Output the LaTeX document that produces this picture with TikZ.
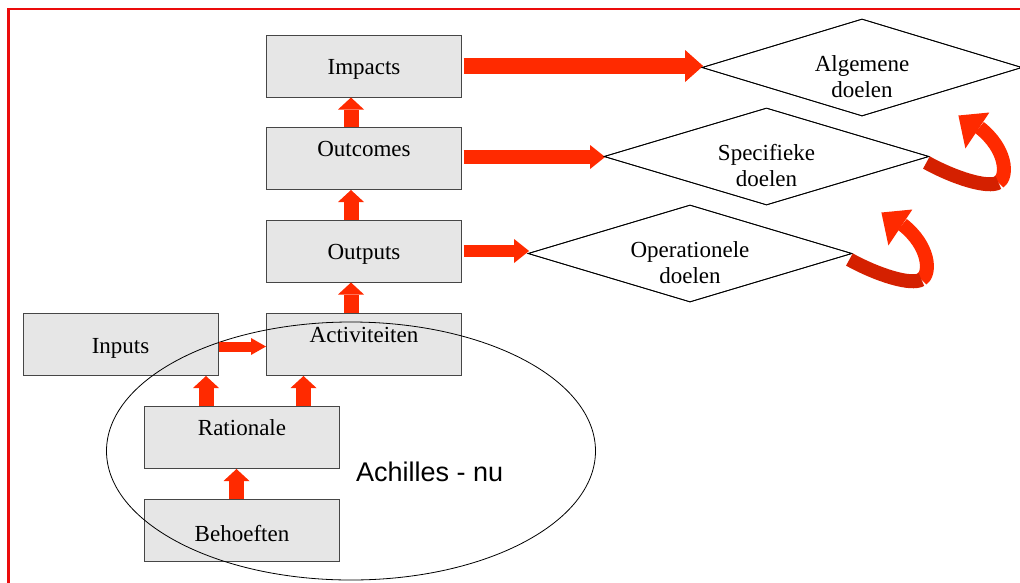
\documentclass[tikz,border=0pt]{standalone}
\usepackage{fontspec}
\setmainfont{Liberation Serif}
\newfontfamily\achfont{Liberation Sans}
\usetikzlibrary{arrows.meta,shapes.geometric,calc}
\definecolor{arrowred}{RGB}{255,42,0}
\definecolor{arrowdark}{RGB}{212,32,0}
\definecolor{boxfill}{RGB}{230,230,230}
\definecolor{boxline}{RGB}{70,70,70}
\definecolor{framered}{RGB}{235,12,12}
\tikzset{
  box/.style={draw=boxline, line width=1pt, fill=boxfill, minimum width=195pt,
    minimum height=62pt, inner sep=0pt},
  toplabel/.style={label={[anchor=center,yshift=-22pt]north:#1}},
  midlabel/.style={label={[anchor=center,yshift=-3.5pt]center:#1}},
  goal/.style={draw=black, line width=0.8pt, shape=diamond, inner sep=0pt,
    minimum height=97pt},
  goaltext/.style={align=center},
  blockarrow/.style n args={3}{draw=arrowred, line width=#1,
    -{Triangle[width=#2,length=#3,line width=0pt]}},
  uparrow/.style={blockarrow={15pt}{26pt}{12pt}},
  turnarrow/.pic={
    \draw[arrowred, line width=14pt] (69,26) .. controls (79,20) and (77,-8) .. (50,-29);
    \draw[arrowdark, line width=14pt] (-3,6) .. controls (26,22) and (59,32) .. (69,26);
    \fill[arrowred] (29,-41) -- (60,-44) -- (36,-8) -- cycle;
  }
}
\begin{document}
\begin{tikzpicture}[x=1pt, y=-1pt, font=\fontsize{23}{26}\selectfont]
\useasboundingbox (0,0) rectangle (1020,582);
\clip (0,0) rectangle (1020,582);

% outer frame
\draw[framered, line width=2.2pt] (8.5,600) -- (8.5,9) -- (1040,9);

% logic-model boxes
\node[box, midlabel=Impacts] (imp)  at (364,66) {};
\node[box, toplabel=Outcomes] (outc) at (364,158.5) {};
\node[box, midlabel=Outputs] (outp) at (364,251) {};
\node[box, toplabel=Activiteiten] (act) at (364,344.5) {};
\node[box, midlabel=Inputs] (inp)  at (120.5,344.5) {};
\node[box, toplabel=Rationale] (rat) at (242,437.5) {};
\node[box, midlabel=Behoeften] (beh)  at (242,530) {};

% scope of the current situation
\node[draw=black, line width=0.8pt, ellipse, inner sep=0pt,
  minimum width=489pt, minimum height=258pt] (scope) at (351,451) {};
\node[anchor=west, inner sep=0pt, font=\achfont\fontsize{27}{30}\selectfont] (achtxt) at (356,471.5) {Achilles - nu};

% vertical flow
\draw[uparrow] ([xshift=-13pt]outc.north) -- ([xshift=-13pt]outc.north |- imp.south);
\draw[uparrow] ([xshift=-13pt]outp.north) -- ([xshift=-13pt]outp.north |- outc.south);
\draw[uparrow] ([xshift=-13pt]act.north) -- ([xshift=-13pt]act.north |- outp.south);
\draw[uparrow] ([xshift=-36pt]rat.north) -- ([xshift=-36pt]rat.north |- inp.south);
\draw[uparrow] ([xshift=61.5pt]rat.north) -- ([xshift=61.5pt]rat.north |- act.south);
\draw[uparrow] ([xshift=-5.5pt]beh.north) -- ([xshift=-5.5pt]beh.north |- rat.south);
\draw[blockarrow={10pt}{17pt}{15pt}] ([yshift=-2pt]inp.east) -- ([yshift=-2pt]inp.east -| act.west);

% goals
\node[goal, minimum width=320pt] (alg) at (862,67.5) {};
\node[goal, minimum width=325pt] (spe) at (766.5,156.5) {};
\node[goal, minimum width=324pt] (ope) at (690,253.5) {};

\draw[blockarrow={16pt}{32pt}{18pt}] ([xshift=1.5pt]imp.east) -- ([xshift=1.5pt]imp.east -| alg.west);
\draw[blockarrow={14pt}{24pt}{15pt}] ([xshift=1.5pt,yshift=1.5pt]outc.east) -- ([xshift=1.5pt,yshift=1.5pt]outc.east -| spe.west);
\draw[blockarrow={12pt}{24pt}{15pt}] ([xshift=1.5pt]outp.east) -- ([xshift=1.5pt]outp.east -| ope.west);

% redraw goal outlines over the arrow tips
\node[goal, minimum width=320pt] at (alg) {};
\node[goal, minimum width=325pt] at (spe) {};
\node[goal, minimum width=324pt] at (ope) {};

\node[goaltext] (algt) at ([yshift=-9pt]alg.center) {Algemene\\doelen};
\node[goaltext] (spet) at ([yshift=-9pt]spe.center) {Specifieke\\doelen};
\node[goaltext] (opet) at ([yshift=-9pt]ope.center) {Operationele\\doelen};

% feedback loops
\pic at (spe.east) {turnarrow};
\pic at (ope.east) {turnarrow};
\end{tikzpicture}
\end{document}
